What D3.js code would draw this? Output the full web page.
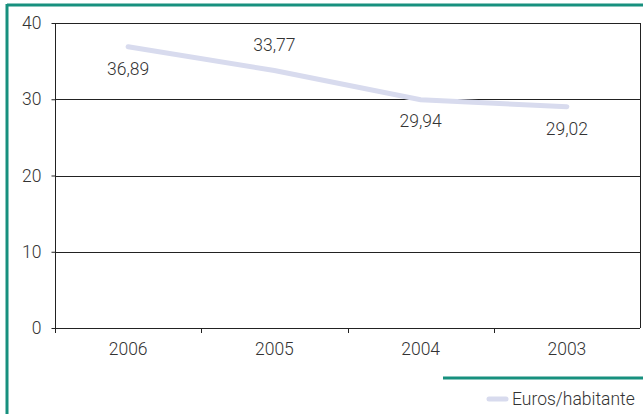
<!DOCTYPE html>
<html><head><meta charset="utf-8">
<script src="https://cdn.jsdelivr.net/npm/d3@7"></script>
<style>body{margin:0;background:#fff;}svg{display:block;font-family:Roboto,sans-serif;font-weight:300;}</style>
</head><body><svg id="c" width="643" height="414"></svg>
<script>
const categories = ["2006","2005","2004","2003"];
const values = [36.89, 33.77, 29.94, 29.02];
const valueLabels = ["36,89","33,77","29,94","29,02"];
const yTicks = [0,10,20,30,40];
const seriesName = "Euros/habitante";

const svg = d3.select("#c");
const teal = "#17907e";
const fs = 17.5;
const m = {l:55, r:640, t:23, b:328};
const x = d3.scaleBand().domain(categories).range([m.l, m.r]);
const y = d3.scaleLinear().domain([0,40]).range([m.b, m.t]);

// frame
svg.append("line").attr("x1",7).attr("x2",643).attr("y1",5).attr("y2",5).attr("stroke",teal).attr("stroke-width",3);
svg.append("line").attr("x1",7).attr("x2",7).attr("y1",4).attr("y2",414).attr("stroke",teal).attr("stroke-width",3);
svg.append("line").attr("x1",443).attr("x2",643).attr("y1",378).attr("y2",378).attr("stroke",teal).attr("stroke-width",3);

// gridlines
svg.append("g").selectAll("line").data(yTicks.filter(d=>d>0)).join("line")
  .attr("x1",m.l).attr("x2",m.r).attr("y1",d=>Math.round(y(d))+0.5).attr("y2",d=>Math.round(y(d))+0.5)
  .attr("stroke","#222").attr("stroke-width",1);
svg.append("line").attr("x1",m.r+0.5).attr("x2",m.r+0.5).attr("y1",y(40)).attr("y2",y(0)).attr("stroke","#222");

// y axis
const ya = svg.append("g").attr("transform",`translate(${m.l+0.5},0)`)
  .call(d3.axisLeft(y).tickValues(yTicks).tickSize(4).tickPadding(10).tickFormat(d3.format("d")));
ya.select(".domain").attr("stroke","#222").attr("d",`M0,${y(40)}V${y(0)}`);
ya.selectAll(".tick line").attr("stroke","#222");
ya.selectAll("text").attr("font-size",fs).attr("fill","#333").attr("font-family","Roboto,sans-serif").attr("font-weight",300);

// x axis
const xa = svg.append("g").attr("transform",`translate(0,${Math.round(y(0))+0.5})`)
  .call(d3.axisBottom(x).tickSize(0).tickPadding(14));
xa.select(".domain").attr("stroke","#222").attr("d",`M${m.l},0H${m.r}`);
xa.selectAll("text").attr("font-size",fs).attr("fill","#333").attr("font-family","Roboto,sans-serif").attr("font-weight",300);
svg.append("g").selectAll("line").data(categories.slice(1)).join("line")
  .attr("x1",d=>Math.round(x(d))+0.5).attr("x2",d=>Math.round(x(d))+0.5)
  .attr("y1",y(0)).attr("y2",y(0)+5).attr("stroke","#222");
svg.append("line").attr("x1",m.l+0.5).attr("x2",m.l+0.5).attr("y1",y(0)).attr("y2",y(0)+5).attr("stroke","#222");

// line
const cx = d => x(d)+x.bandwidth()/2;
svg.append("path").datum(values.map((v,i)=>[cx(categories[i]),y(v)]))
  .attr("d",d3.line()).attr("fill","none").attr("stroke","#d8dbee").attr("stroke-width",5).attr("stroke-linecap","round");

// labels
const offs = [28, -20, 27, 28];
svg.append("g").selectAll("text").data(values).join("text")
  .attr("x",(d,i)=>cx(categories[i])).attr("y",(d,i)=>y(d)+offs[i])
  .attr("text-anchor","middle").attr("font-size",fs).attr("fill","#333")
  .text((d,i)=>valueLabels[i]);

// legend
svg.append("line").attr("x1",489).attr("x2",506).attr("y1",399).attr("y2",399).attr("stroke","#d8dbee").attr("stroke-width",5).attr("stroke-linecap","round");
svg.append("text").attr("x",512).attr("y",405).attr("font-size",fs).attr("fill","#333").text(seriesName);
</script></body></html>
